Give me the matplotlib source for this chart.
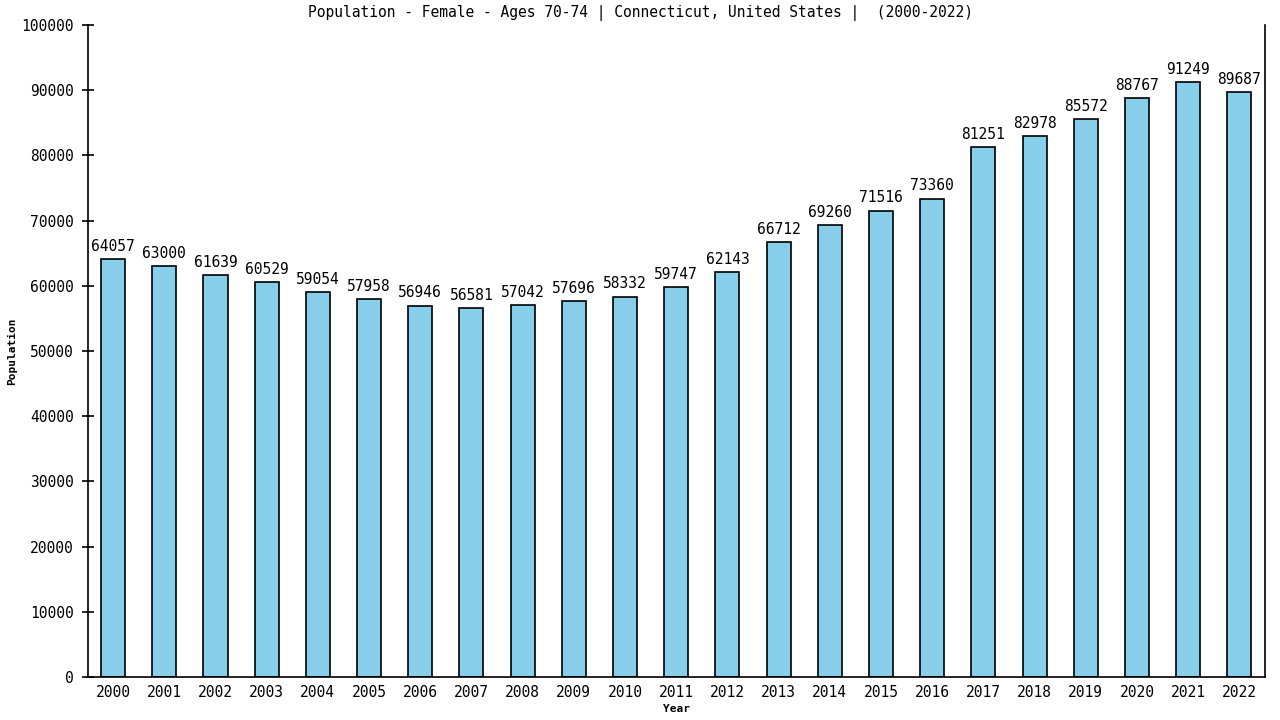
import matplotlib.pyplot as plt

years = list(range(2000, 2023))
population = [64057, 63000, 61639, 60529, 59054, 57958, 56946, 56581, 57042, 57696,
              58332, 59747, 62143, 66712, 69260, 71516, 73360, 81251, 82978, 85572,
              88767, 91249, 89687]
yticks = list(range(0, 100001, 10000))

plt.rcParams['font.family'] = ['DejaVu Sans Mono']

fig = plt.figure(figsize=(12.8, 7.2), dpi=100)
ax = fig.add_axes([88 / 1280, 1 - 677 / 720, (1265 - 88) / 1280, (677 - 25) / 720])

pos = list(range(len(years)))
ax.bar(pos, population, width=0.47, color='#87ceeb', edgecolor='black', linewidth=1.2)
for x, v in zip(pos, population):
    ax.text(x, v + 800, str(v), ha='center', va='bottom', fontsize=10.5)

ax.set_xlim(-0.49, len(years) - 0.5)
ax.set_ylim(0, 100000)
ax.set_xticks(pos)
ax.set_xticklabels([str(y) for y in years], fontsize=10.5)
ax.set_yticks(yticks)
ax.set_yticklabels([str(t) for t in yticks], fontsize=10.5)
ax.tick_params(axis='x', length=0, pad=6)
ax.tick_params(axis='y', length=8, width=1.2, direction='inout', pad=6)
ax.spines['top'].set_visible(False)
for s in ('left', 'right', 'bottom'):
    ax.spines[s].set_linewidth(1.2)

ax.set_xlabel('Year', fontsize=8, fontweight='bold', labelpad=3)
ax.set_ylabel('Population', fontsize=8, fontweight='bold', labelpad=3)
fig.text(0.5, 0.982, 'Population - Female - Ages 70-74 | Connecticut, United States |  (2000-2022)',
         ha='center', va='center', fontsize=10.5)

fig.savefig('out.png', dpi=100)
